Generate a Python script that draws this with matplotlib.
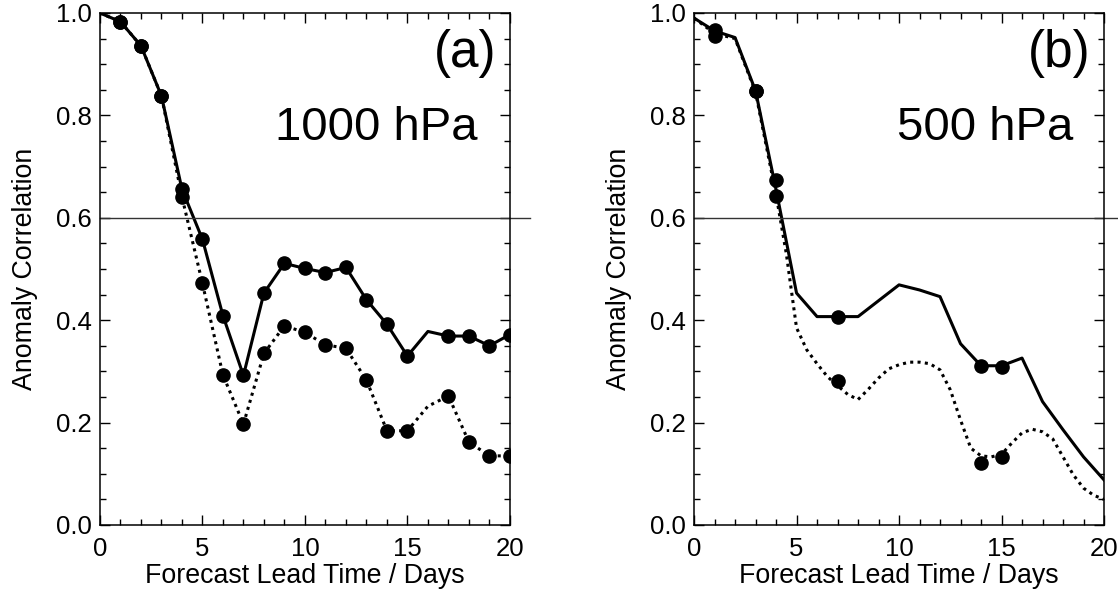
import matplotlib
matplotlib.use("Agg")
import matplotlib.pyplot as plt
from matplotlib.ticker import MultipleLocator, FormatStrFormatter

plt.rcParams['font.family'] = ['Liberation Sans', 'DejaVu Sans']

# Panel (a): 1000 hPa
a_days = list(range(21))
a_solid = [1.0, 0.983, 0.936, 0.838, 0.656, 0.558, 0.409, 0.292, 0.453, 0.511, 0.501,
           0.493, 0.503, 0.440, 0.392, 0.330, 0.378, 0.369, 0.369, 0.350, 0.372]
a_dotted = [1.0, 0.983, 0.936, 0.838, 0.641, 0.472, 0.293, 0.197, 0.335, 0.389, 0.376,
            0.352, 0.345, 0.283, 0.184, 0.184, 0.232, 0.252, 0.162, 0.135, 0.135]
a_mark_days = [1, 2, 3, 4, 5, 6, 7, 8, 9, 10, 11, 12, 13, 14, 15, 17, 18, 19, 20]

# Panel (b): 500 hPa
b_days = list(range(21))
b_solid = [0.99, 0.965, 0.952, 0.848, 0.655, 0.453, 0.407, 0.407, 0.407, 0.438, 0.469,
           0.459, 0.446, 0.354, 0.311, 0.311, 0.326, 0.241, 0.186, 0.133, 0.088]
b_dot_days = [0, 1, 2, 3, 4, 4.5, 5, 5.5, 6, 6.5, 7, 7.5, 8, 8.5, 9, 9.5, 10, 10.5, 11,
              11.5, 12, 12.5, 13, 13.5, 14, 14.5, 15, 15.5, 16, 16.5, 17, 17.5, 18,
              18.5, 19, 19.5, 20]
b_dotted = [0.99, 0.96, 0.95, 0.845, 0.645, 0.53, 0.385, 0.342, 0.315, 0.29, 0.272,
            0.255, 0.245, 0.265, 0.287, 0.305, 0.313, 0.318, 0.318, 0.315, 0.303,
            0.264, 0.205, 0.15, 0.135, 0.133, 0.138, 0.16, 0.18, 0.187, 0.182, 0.168,
            0.133, 0.098, 0.072, 0.058, 0.05]
b_mark_days = [1, 3, 4, 7, 14, 15]
b_mark_solid = [0.967, 0.848, 0.674, 0.407, 0.311, 0.309]
b_mark_dotted = [0.955, 0.848, 0.643, 0.282, 0.122, 0.132]

fig = plt.figure(figsize=(11.18, 5.93), dpi=100)
ax1 = fig.add_axes([0.0894, 0.1147, 0.3667, 0.8634])
ax2 = fig.add_axes([0.6208, 0.1147, 0.3667, 0.8634])

lw = 2.2
dots = (0, (1, 1.4))
ms = 9.5


def style_axes(ax, panel, level, lx, ly):
    ax.set_xlim(0, 20)
    ax.set_ylim(0, 1)
    ax.xaxis.set_major_locator(MultipleLocator(5))
    ax.xaxis.set_minor_locator(MultipleLocator(1))
    ax.yaxis.set_major_locator(MultipleLocator(0.2))
    ax.yaxis.set_minor_locator(MultipleLocator(0.05))
    ax.yaxis.set_major_formatter(FormatStrFormatter('%.1f'))
    ax.tick_params(which='both', direction='in', top=True, right=True, width=1.0)
    ax.tick_params(which='major', length=7)
    ax.tick_params(which='minor', length=4)
    ax.tick_params(axis='x', labelsize=18.5, pad=9)
    ax.tick_params(axis='y', labelsize=18.5, pad=6)
    for s in ax.spines.values():
        s.set_linewidth(1.1)
    ax.axhline(0.6, xmin=0, xmax=1.05, color='#333333', lw=1.0, clip_on=False)
    ax.set_xlabel("Forecast Lead Time / Days", fontsize=19.3, labelpad=1)
    ax.set_ylabel("Anomaly Correlation", fontsize=19.3)
    ax.yaxis.set_label_coords(-0.152, 0.5)
    ax.text(0.966, 0.895, panel, transform=ax.transAxes, fontsize=37,
            ha='right', va='baseline')
    ax.text(lx, ly, level, transform=ax.transAxes, fontsize=34,
            ha='right', va='baseline')


# (a)
ax1.plot(a_days, a_solid, color='black', lw=lw)
ax1.plot(a_days, a_dotted, color='black', lw=lw, linestyle=dots)
ax1.plot(a_mark_days, [a_solid[d] for d in a_mark_days], 'o', color='black', ms=ms)
ax1.plot(a_mark_days, [a_dotted[d] for d in a_mark_days], 'o', color='black', ms=ms)
style_axes(ax1, "(a)", "1000 hPa", 0.922, 0.752)

# (b)
ax2.plot(b_days, b_solid, color='black', lw=lw)
ax2.plot(b_dot_days, b_dotted, color='black', lw=lw, linestyle=dots)
ax2.plot(b_mark_days, b_mark_solid, 'o', color='black', ms=ms)
ax2.plot(b_mark_days, b_mark_dotted, 'o', color='black', ms=ms)
style_axes(ax2, "(b)", "500 hPa", 0.924, 0.752)

fig.savefig("out.png", dpi=100)
